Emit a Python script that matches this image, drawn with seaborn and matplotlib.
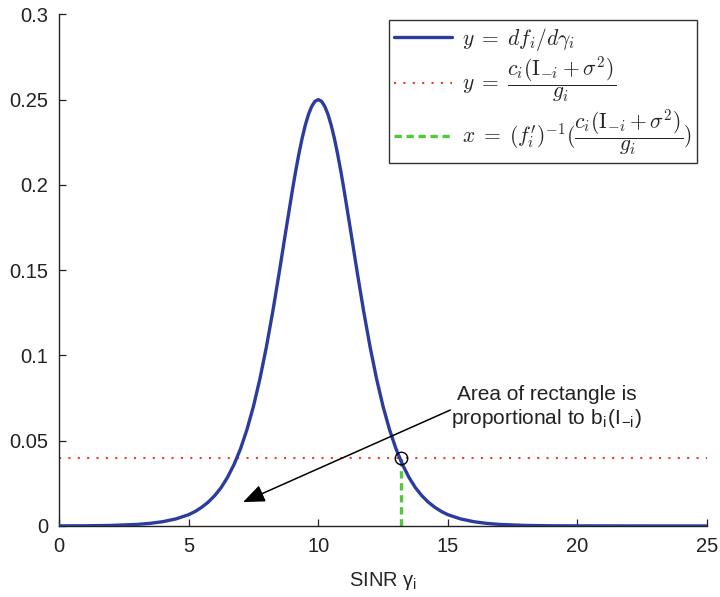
import matplotlib
matplotlib.use("Agg")
import matplotlib.pyplot as plt
import seaborn as sns
import pandas as pd

# Marginal utility curve df_i/dgamma_i sampled along SINR
gamma = [0, 1, 2, 3, 3.5, 4, 4.5, 5, 5.25, 5.5, 5.75, 6, 6.25, 6.5, 6.75, 7,
         7.25, 7.5, 7.75, 8, 8.25, 8.5, 8.75, 9, 9.125, 9.25, 9.375, 9.5, 9.625,
         9.75, 9.875, 10, 10.125, 10.25, 10.375, 10.5, 10.625, 10.75, 10.875, 11,
         11.25, 11.5, 11.75, 12, 12.25, 12.5, 12.75, 13, 13.25, 13.5, 13.75, 14,
         14.25, 14.5, 14.75, 15, 15.5, 16, 16.5, 17, 18, 19, 20, 22, 25]
dfdg = [0.00005, 0.0001, 0.0003, 0.0009, 0.0015, 0.0025, 0.0041, 0.0066, 0.0085,
        0.0109, 0.0139, 0.0177, 0.0224, 0.0285, 0.0360, 0.0452, 0.0565, 0.0701,
        0.0863, 0.1050, 0.1261, 0.1491, 0.1731, 0.1966, 0.2077, 0.2179, 0.2271,
        0.2350, 0.2414, 0.2461, 0.2490, 0.25, 0.2490, 0.2461, 0.2414, 0.2350,
        0.2271, 0.2179, 0.2077, 0.1966, 0.1731, 0.1491, 0.1261, 0.1050, 0.0863,
        0.0701, 0.0565, 0.0452, 0.0360, 0.0285, 0.0224, 0.0177, 0.0139, 0.0109,
        0.0085, 0.0066, 0.0041, 0.0025, 0.0015, 0.0009, 0.0003, 0.0001, 0.00005,
        0.00001, 0.0]

# Price level c_i(I_-i + sigma^2)/g_i and the SINR where the curve meets it
price = 0.04
gamma_star = 13.2
x_range = [0, 25]

x_ticks = [0, 5, 10, 15, 20, 25]
y_ticks = [0, 0.05, 0.1, 0.15, 0.2, 0.25, 0.3]
y_ticklabels = ["0", "0.05", "0.1", "0.15", "0.2", "0.25", "0.3"]

sns.set_theme(style="ticks")
plt.rcParams["font.family"] = ["Liberation Sans", "DejaVu Sans"]
plt.rcParams["mathtext.fontset"] = "cm"

curve = pd.DataFrame({"gamma": gamma, "dfdg": dfdg})
level = pd.DataFrame({"gamma": x_range, "y": [price, price]})
drop = pd.DataFrame({"gamma": [gamma_star, gamma_star], "y": [0, price]})

fig = plt.figure(figsize=(7.2, 5.97), dpi=100)
ax = fig.add_axes([0.082, 0.119, 0.9, 0.857])

sns.lineplot(data=curve, x="gamma", y="dfdg", ax=ax, color="#2B3C9E", lw=2.4,
             estimator=None, sort=False, solid_joinstyle="round",
             label=r"$y \;=\; df_i/d\gamma_i$", zorder=3)
sns.lineplot(data=level, x="gamma", y="y", ax=ax, color="#F03A2E", lw=1.5,
             linestyle=(0, (1, 3.5)), estimator=None, sort=False,
             label=r"$y \;=\; \dfrac{c_i(\mathrm{I}_{-i}+\sigma^2)}{g_i}$", zorder=2)
sns.lineplot(data=drop, x="gamma", y="y", ax=ax, color="#4FCB3A", lw=2.4,
             linestyle=(0, (2.2, 1.4)), estimator=None, sort=False,
             label=r"$x \;=\; (f_i^{\prime})^{-1}(\dfrac{c_i(\mathrm{I}_{-i}+\sigma^2)}{g_i})$",
             zorder=2)
ax.plot([gamma_star], [price], marker="o", ms=9, mfc="none", mec="black",
        mew=1.0, zorder=4)

# Arrow pointing into the rectangle under the price level
ax.annotate("", xy=(7.1, 0.014), xytext=(15.1, 0.068),
            arrowprops=dict(arrowstyle="-|>,head_length=1.1,head_width=0.45",
                            color="black", lw=1.1, shrinkA=0, shrinkB=0))
ax.text(18.8, 0.0695,
        "Area of rectangle is\nproportional to b$_\\mathregular{i}$(I$_\\mathregular{-i}$)",
        ha="center", va="center", fontsize=15, color="#222222", linespacing=1.2)

ax.set_xlim(0, 25)
ax.set_ylim(0, 0.3)
ax.set_xticks(x_ticks)
ax.set_yticks(y_ticks)
ax.set_yticklabels(y_ticklabels)
ax.set_xlabel(r"SINR $\mathregular{\gamma_i}$", fontsize=14.5, labelpad=10)
ax.set_ylabel("")
ax.tick_params(direction="in", length=5, width=0.9, labelsize=14.5,
               color="#222222", labelcolor="#222222", pad=8)
for side in ["top", "right"]:
    ax.spines[side].set_visible(False)
for side in ["left", "bottom"]:
    ax.spines[side].set_color("#222222")
    ax.spines[side].set_linewidth(1.0)

leg = ax.legend(loc="upper right", bbox_to_anchor=(0.985, 0.988), fontsize=15.5,
                frameon=True, fancybox=False, handlelength=2.7,
                handletextpad=0.45, borderpad=0.25, labelspacing=0.1,
                borderaxespad=0)
leg.get_frame().set_edgecolor("black")
leg.get_frame().set_linewidth(1.0)

fig.savefig("out.png", dpi=100)
